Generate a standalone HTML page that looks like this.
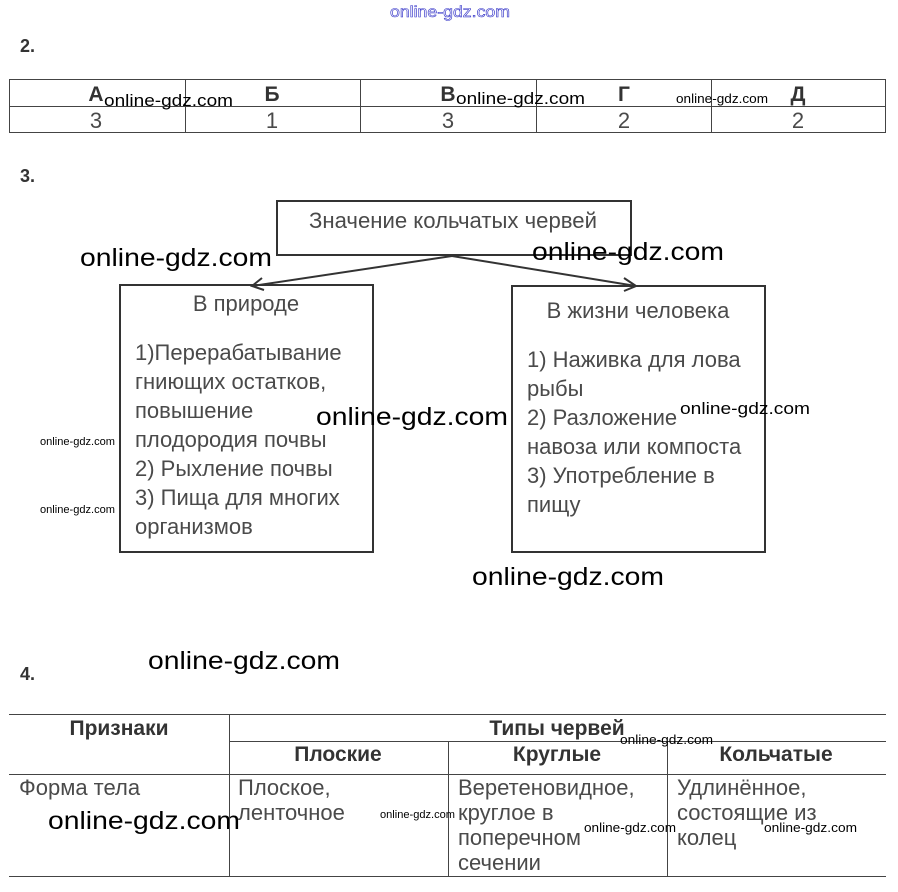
<!DOCTYPE html>
<html><head><meta charset="utf-8"><style>
html,body{margin:0;padding:0;background:#fff;}
svg{display:block;}
text{font-family:"Liberation Sans","DejaVu Sans",sans-serif;}
.g{fill:#4a4a4a;font-size:22px;}
.b{fill:#333;font-weight:bold;}
.w{fill:#000;}
</style></head><body>
<svg width="898" height="892" viewBox="0 0 898 892" xmlns="http://www.w3.org/2000/svg">
<text x="390" y="17" font-size="16" fill="#fff" stroke="#3434c8" stroke-width="0.6" textLength="120" lengthAdjust="spacingAndGlyphs">online-gdz.com</text>

<text x="20" y="52" class="b" font-size="18">2.</text>
<text x="20" y="182" class="b" font-size="18">3.</text>
<text x="20" y="680" class="b" font-size="18">4.</text>

<!-- table 2 -->
<g stroke="#444" stroke-width="1" fill="none">
<rect x="9.5" y="79.5" width="876" height="53"/>
<line x1="9" y1="106.5" x2="886" y2="106.5"/>
<line x1="185.5" y1="79" x2="185.5" y2="133"/>
<line x1="360.5" y1="79" x2="360.5" y2="133"/>
<line x1="536.5" y1="79" x2="536.5" y2="133"/>
<line x1="711.5" y1="79" x2="711.5" y2="133"/>
</g>
<g class="b" font-size="21" text-anchor="middle">
<text x="96" y="101">А</text><text x="272" y="101">Б</text><text x="448" y="101">В</text><text x="624" y="101">Г</text><text x="798" y="101">Д</text>
</g>
<g class="g" text-anchor="middle">
<text x="96" y="128">3</text><text x="272" y="128">1</text><text x="448" y="128">3</text><text x="624" y="128">2</text><text x="798" y="128">2</text>
</g>
<text x="104" y="106" class="w" font-size="17" textLength="129" lengthAdjust="spacingAndGlyphs">online-gdz.com</text>
<text x="456" y="104" class="w" font-size="17" textLength="129" lengthAdjust="spacingAndGlyphs">online-gdz.com</text>
<text x="676" y="103" class="w" font-size="13" textLength="92" lengthAdjust="spacingAndGlyphs">online-gdz.com</text>

<!-- diagram -->
<g stroke="#333" stroke-width="2" fill="none">
<rect x="277" y="201" width="354" height="54"/>
<rect x="120" y="285" width="253" height="267"/>
<rect x="512" y="286" width="253" height="266"/>
<line x1="452" y1="256" x2="252" y2="286"/>
<line x1="452" y1="256" x2="636" y2="286"/>
<polyline points="262,278 252,286 264,290"/>
<polyline points="624,278 636,286 624,291"/>
</g>
<text x="453" y="228" class="g" text-anchor="middle" textLength="288" lengthAdjust="spacingAndGlyphs">Значение кольчатых червей</text>
<text x="246" y="311" class="g" text-anchor="middle">В природе</text>
<g class="g">
<text x="135" y="360">1)Перерабатывание</text>
<text x="135" y="389">гниющих остатков,</text>
<text x="135" y="418">повышение</text>
<text x="135" y="447">плодородия почвы</text>
<text x="135" y="476">2) Рыхление почвы</text>
<text x="135" y="505">3) Пища для многих</text>
<text x="135" y="534">организмов</text>
</g>
<text x="638" y="318" class="g" text-anchor="middle">В жизни человека</text>
<g class="g">
<text x="527" y="367">1) Наживка для лова</text>
<text x="527" y="396">рыбы</text>
<text x="527" y="425">2) Разложение</text>
<text x="527" y="454">навоза или компоста</text>
<text x="527" y="483">3) Употребление в</text>
<text x="527" y="512">пищу</text>
</g>
<g class="w" font-size="25">
<text x="80" y="266" textLength="192" lengthAdjust="spacingAndGlyphs">online-gdz.com</text>
<text x="532" y="260" textLength="192" lengthAdjust="spacingAndGlyphs">online-gdz.com</text>
<text x="316" y="425" textLength="192" lengthAdjust="spacingAndGlyphs">online-gdz.com</text>
<text x="472" y="585" textLength="192" lengthAdjust="spacingAndGlyphs">online-gdz.com</text>
<text x="148" y="669" textLength="192" lengthAdjust="spacingAndGlyphs">online-gdz.com</text>
<text x="48" y="829" textLength="192" lengthAdjust="spacingAndGlyphs">online-gdz.com</text>
</g>
<text x="680" y="414" class="w" font-size="17" textLength="130" lengthAdjust="spacingAndGlyphs">online-gdz.com</text>
<text x="40" y="445" class="w" font-size="11" textLength="75" lengthAdjust="spacingAndGlyphs">online-gdz.com</text>
<text x="40" y="513" class="w" font-size="11" textLength="75" lengthAdjust="spacingAndGlyphs">online-gdz.com</text>

<!-- table 4 -->
<g stroke="#444" stroke-width="1" fill="none">
<line x1="9" y1="714.5" x2="886" y2="714.5"/>
<line x1="229" y1="741.5" x2="886" y2="741.5"/>
<line x1="9" y1="774.5" x2="886" y2="774.5"/>
<line x1="9" y1="876.5" x2="886" y2="876.5"/>
<line x1="229.5" y1="714" x2="229.5" y2="877"/>
<line x1="448.5" y1="741" x2="448.5" y2="877"/>
<line x1="667.5" y1="741" x2="667.5" y2="877"/>
</g>
<g class="b" font-size="21" text-anchor="middle">
<text x="119" y="735">Признаки</text>
<text x="557" y="735">Типы червей</text>
<text x="338" y="761">Плоские</text>
<text x="557" y="761">Круглые</text>
<text x="776" y="761">Кольчатые</text>
</g>
<g class="g">
<text x="19" y="795">Форма тела</text>
<text x="238" y="795">Плоское,</text>
<text x="238" y="820">ленточное</text>
<text x="458" y="795">Веретеновидное,</text>
<text x="458" y="820">круглое в</text>
<text x="458" y="845">поперечном</text>
<text x="458" y="870">сечении</text>
<text x="677" y="795">Удлинённое,</text>
<text x="677" y="820">состоящие из</text>
<text x="677" y="845">колец</text>
</g>
<text x="620" y="744" class="w" font-size="13" textLength="93" lengthAdjust="spacingAndGlyphs">online-gdz.com</text>
<text x="380" y="818" class="w" font-size="11" textLength="75" lengthAdjust="spacingAndGlyphs">online-gdz.com</text>
<text x="584" y="832" class="w" font-size="13" textLength="92" lengthAdjust="spacingAndGlyphs">online-gdz.com</text>
<text x="764" y="832" class="w" font-size="13" textLength="93" lengthAdjust="spacingAndGlyphs">online-gdz.com</text>
</svg>
</body></html>
